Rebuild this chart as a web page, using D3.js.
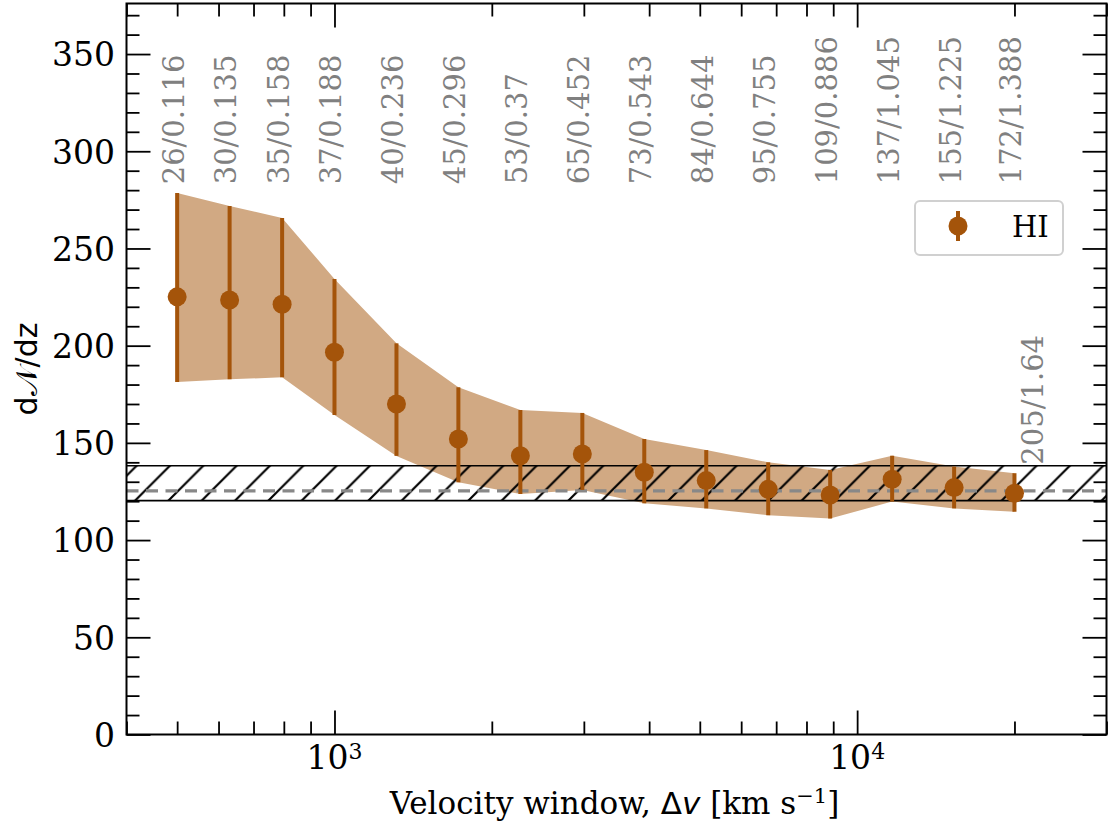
<!DOCTYPE html>
<html><head><meta charset="utf-8">
<script src="https://cdn.jsdelivr.net/npm/d3@7"></script>
<style>body{margin:0;background:#fff} svg{display:block}</style>
</head><body>
<svg id="c" width="1108" height="825"></svg>
<script>
// ---- data ----
const velocity = [500, 630, 794, 1000, 1314, 1726, 2268, 2980, 3915, 5144, 6759, 8880, 11668, 15331, 20000];
const dNdz     = [225.1, 223.5, 221.3, 196.6, 170.0, 152.0, 143.4, 144.3, 134.9, 130.6, 126.1, 123.2, 131.3, 127.0, 124.1];
const upper    = [278.5, 271.9, 265.7, 234.3, 201.2, 178.6, 166.9, 165.4, 152.0, 146.3, 140.0, 136.1, 143.4, 137.8, 134.4];
const lower    = [181.3, 182.7, 183.7, 164.4, 143.3, 129.7, 123.7, 125.8, 118.9, 116.3, 112.8, 111.1, 119.8, 116.3, 114.6];
const binLabels = ["26/0.116","30/0.135","35/0.158","37/0.188","40/0.236","45/0.296","53/0.37","65/0.452",
                   "73/0.543","84/0.644","95/0.755","109/0.886","137/1.045","155/1.225","172/1.388"];
const extraLabel = "205/1.64";
const extraLabelVelocity = 22000;
const refValue = 125.3, refLow = 120.3, refHigh = 138.2;
const yTicks = [0, 50, 100, 150, 200, 250, 300, 350];
const xMajorTicks = [1000, 10000];
const seriesName = "HI";

// ---- layout ----
const L = 126.5, R = 1106.5, T = 3.5, B = 734.5;
const ptColor = "#a4540a", bandColor = "#d1a983";
const serif = "'DejaVu Serif', serif", sans = "'DejaVu Sans', sans-serif";
const fs = 29, tickFs = 33, xlabFs = 31;

const svg = d3.select("#c");
const x = d3.scaleLog().domain([400, 30000]).range([L, R]);
const y = d3.scaleLinear().domain([0, 376]).range([B, T]);

const defs = svg.append("defs");
defs.append("clipPath").attr("id","clip").append("rect").attr("x",L).attr("y",T).attr("width",R-L).attr("height",B-T);
const p = 33.33;
const pat = defs.append("pattern").attr("id","hatch").attr("patternUnits","userSpaceOnUse")
  .attr("x",2.4).attr("y",0).attr("width",p).attr("height",p);
pat.append("path").attr("d",`M0,${p} L${p},0 M${-6},6 L6,${-6} M${p-6},${p+6} L${p+6},${p-6}`)
  .attr("stroke","#000").attr("stroke-width",2.2);

const g = svg.append("g").attr("clip-path","url(#clip)");
const idx = d3.range(velocity.length);

// band
g.append("path").datum(idx)
  .attr("d", d3.area().x(i=>x(velocity[i])).y0(i=>y(lower[i])).y1(i=>y(upper[i])))
  .attr("fill", bandColor);

// hatched reference band
g.append("rect").attr("x",L).attr("width",R-L).attr("y",y(refHigh)).attr("height",y(refLow)-y(refHigh))
  .attr("fill","url(#hatch)").attr("stroke","none");
[refHigh, refLow].forEach(v=>{
  g.append("line").attr("x1",L).attr("x2",R).attr("y1",y(v)).attr("y2",y(v)).attr("stroke","#000").attr("stroke-width",1.6);
});
g.append("line").attr("x1",L).attr("x2",R).attr("y1",y(refValue)).attr("y2",y(refValue))
  .attr("stroke","#888").attr("stroke-width",3.4).attr("stroke-dasharray","12,7.5");

// error bars and points
g.selectAll("line.err").data(idx).join("line").attr("class","err")
  .attr("x1",i=>x(velocity[i])).attr("x2",i=>x(velocity[i]))
  .attr("y1",i=>y(upper[i])).attr("y2",i=>y(lower[i]))
  .attr("stroke",ptColor).attr("stroke-width",4);
g.selectAll("circle.pt").data(idx).join("circle").attr("class","pt")
  .attr("cx",i=>x(velocity[i])).attr("cy",i=>y(dNdz[i])).attr("r",9.5).attr("fill",ptColor);

// bin labels
const labelBase = 283;
svg.selectAll("text.bin").data(idx).join("text").attr("class","bin")
  .attr("transform", i=>`translate(${x(velocity[i])},${y(labelBase)}) rotate(-90)`)
  .attr("dy", 6.4).attr("font-family",serif).attr("font-size",fs).attr("fill","#808080")
  .text(i=>binLabels[i]);
svg.append("text")
  .attr("transform", `translate(${x(extraLabelVelocity)},${y(138.8)}) rotate(-90)`)
  .attr("dy", 6.4).attr("font-family",serif).attr("font-size",fs).attr("fill","#808080")
  .text(extraLabel);

// axes
const allX = x.ticks().filter(v=>v>=400 && v<=30000);
const minorX = allX.filter(v=>!xMajorTicks.includes(v));
const minorY = d3.range(0, 377, 10).filter(v=>v%50!==0);

svg.append("g").attr("transform",`translate(0,${B})`)
  .call(d3.axisBottom(x).tickValues(xMajorTicks).tickSize(-24).tickSizeOuter(0).tickFormat(""));
svg.append("g").attr("transform",`translate(0,${B})`)
  .call(d3.axisBottom(x).tickValues(minorX).tickSize(-13).tickSizeOuter(0).tickFormat(""));
svg.append("g").attr("transform",`translate(0,${T})`)
  .call(d3.axisTop(x).tickValues(xMajorTicks).tickSize(-24).tickSizeOuter(0).tickFormat(""));
svg.append("g").attr("transform",`translate(0,${T})`)
  .call(d3.axisTop(x).tickValues(minorX).tickSize(-13).tickSizeOuter(0).tickFormat(""));
svg.append("g").attr("class","yl").attr("transform",`translate(${L},0)`)
  .call(d3.axisLeft(y).tickValues(yTicks).tickSize(-24).tickSizeOuter(0).tickPadding(11.5).tickFormat(d3.format("d")));
svg.append("g").attr("transform",`translate(${L},0)`)
  .call(d3.axisLeft(y).tickValues(minorY).tickSize(-13).tickSizeOuter(0).tickFormat(""));
svg.append("g").attr("transform",`translate(${R},0)`)
  .call(d3.axisRight(y).tickValues(yTicks).tickSize(-24).tickSizeOuter(0).tickFormat(""));
svg.append("g").attr("transform",`translate(${R},0)`)
  .call(d3.axisRight(y).tickValues(minorY).tickSize(-13).tickSizeOuter(0).tickFormat(""));
svg.selectAll(".domain").remove();
svg.selectAll(".tick line").attr("stroke","#000").attr("stroke-width",1.8);
svg.selectAll(".yl .tick text").attr("font-family",serif).attr("font-size",tickFs).attr("fill","#000")
  .attr("dy","0.36em");

// x tick labels with superscripts
xMajorTicks.forEach(v=>{
  const t = svg.append("text").attr("x",x(v)).attr("y",769).attr("text-anchor","middle")
    .attr("font-family",serif).attr("font-size",tickFs).attr("fill","#000");
  t.append("tspan").text("10");
  t.append("tspan").attr("font-size",22).attr("dy",-10).text(String(Math.round(Math.log10(v))));
});

// frame
svg.append("rect").attr("x",L).attr("y",T).attr("width",R-L).attr("height",B-T)
  .attr("fill","none").attr("stroke","#000").attr("stroke-width",2);

// axis labels
const xl = svg.append("text").attr("x",(L+R)/2 - 2).attr("y",814).attr("text-anchor","middle")
  .attr("font-family",serif).attr("font-size",xlabFs).attr("fill","#000");
xl.append("tspan").text("Velocity window, ");
xl.append("tspan").attr("font-family",sans).text("Δ");
xl.append("tspan").attr("font-family",sans).attr("font-style","italic").text("v");
xl.append("tspan").text(" [km s");
xl.append("tspan").attr("font-size",21).attr("dy",-11).text("−1");
xl.append("tspan").attr("dy",11).text("]");

const yl = svg.append("text").attr("transform",`translate(37,${(T+B)/2}) rotate(-90)`).attr("text-anchor","middle")
  .attr("font-family",sans).attr("font-size",30).attr("fill","#000");
yl.append("tspan").text("d");
yl.append("tspan").text("𝒩");
yl.append("tspan").text("/dz");

// legend
const lg = svg.append("g");
lg.append("rect").attr("x",915).attr("y",201).attr("width",148).attr("height",54).attr("rx",5)
  .attr("fill","#fff").attr("fill-opacity",0.8).attr("stroke","#d0d0d0").attr("stroke-width",2);
lg.append("line").attr("x1",958).attr("x2",958).attr("y1",211).attr("y2",241).attr("stroke",ptColor).attr("stroke-width",4);
lg.append("circle").attr("cx",958).attr("cy",226).attr("r",9.5).attr("fill",ptColor);
lg.append("text").attr("x",1012).attr("y",237).attr("font-family",serif).attr("font-size",fs).attr("fill","#000").text(seriesName);
</script>
</body></html>
